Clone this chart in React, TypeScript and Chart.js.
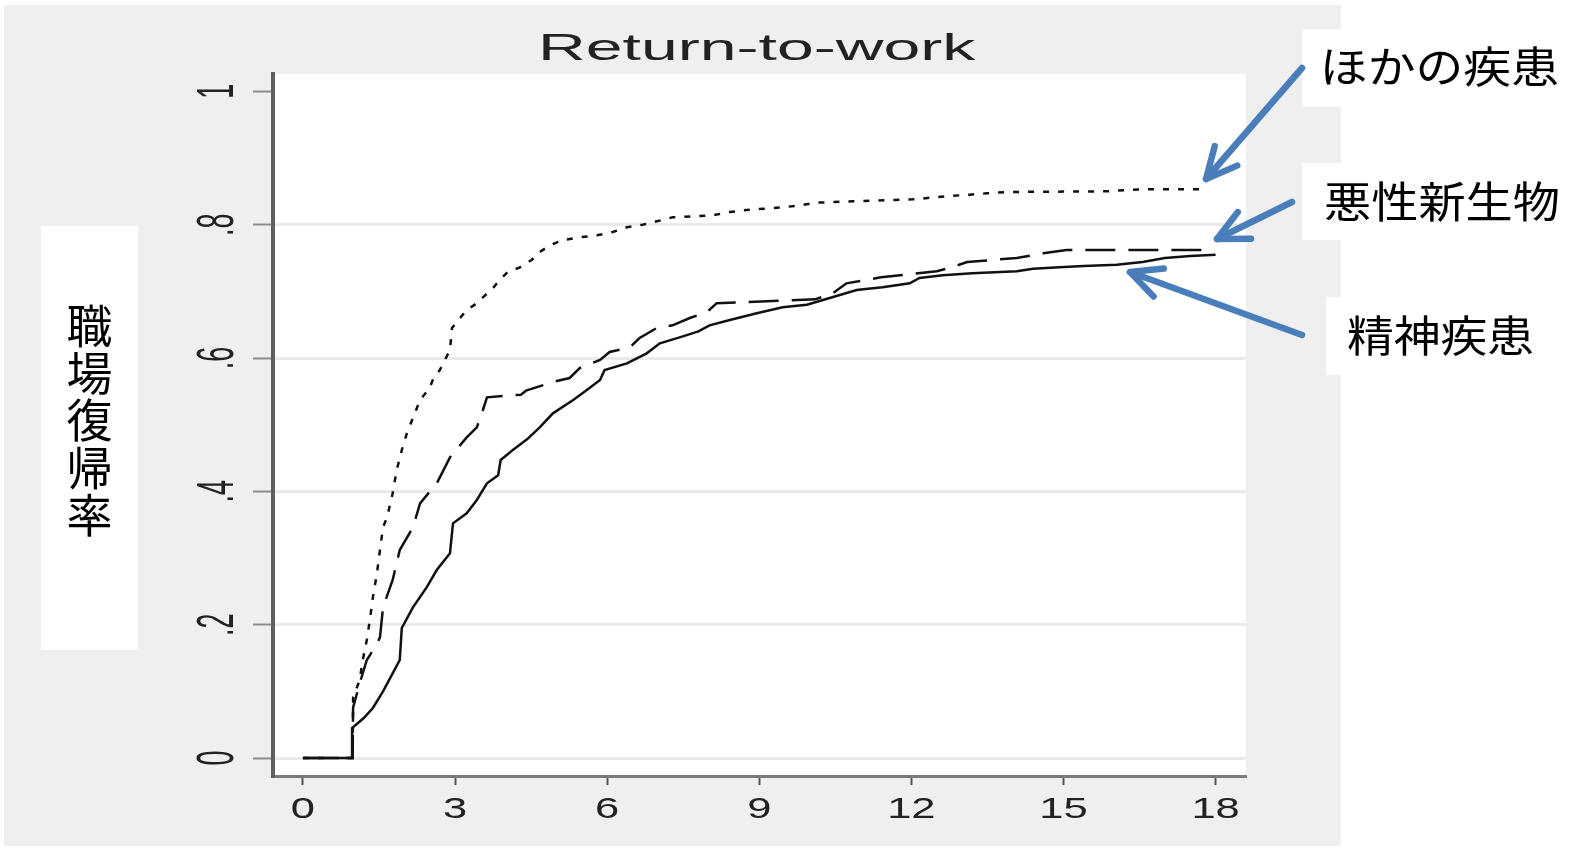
import React, { useEffect, useRef } from 'react';
import { Chart, registerables } from 'chart.js';

Chart.register(...registerables);

// ---------------- data ----------------
const titleText = 'Return-to-work';
const yAxisTitle = '職場復帰率';
const seriesNames = ['精神疾患', '悪性新生物', 'ほかの疾患'];

const xTickValues = [0, 3, 6, 9, 12, 15, 18];
const xTickLabels = ['0', '3', '6', '9', '12', '15', '18'];
const yTickValues = [0, 0.2, 0.4, 0.6, 0.8, 1];
const yTickLabels = ['0', '.2', '.4', '.6', '.8', '1'];

// 精神疾患 (solid)
const mentalT = [0, 0.97, 0.97, 1.2, 1.38, 1.58, 1.77, 1.91, 1.95, 2.17, 2.44, 2.64, 2.9, 2.96, 3.23, 3.43, 3.63, 3.85, 3.9, 4.14, 4.42, 4.67, 4.93, 5.33, 5.6, 5.86, 5.95, 6.39, 6.78, 7.04, 7.43, 7.8, 8.02, 8.42, 8.95, 9.46, 9.94, 10.39, 10.92, 11.43, 11.97, 12.16, 12.62, 13.2, 14.08, 14.4, 14.92, 15.4, 16.05, 16.56, 17.0, 17.5, 18.0];
const mentalV = [0, 0, 0.045, 0.06, 0.075, 0.1, 0.127, 0.147, 0.195, 0.226, 0.256, 0.282, 0.307, 0.352, 0.367, 0.387, 0.412, 0.424, 0.447, 0.462, 0.478, 0.496, 0.517, 0.537, 0.552, 0.567, 0.582, 0.592, 0.607, 0.622, 0.631, 0.64, 0.649, 0.657, 0.667, 0.676, 0.68, 0.69, 0.702, 0.706, 0.712, 0.72, 0.724, 0.727, 0.73, 0.734, 0.736, 0.738, 0.74, 0.744, 0.75, 0.753, 0.755];

// 悪性新生物 (dashed)
const cancerT = [0, 0.98, 0.99, 1.12, 1.26, 1.45, 1.52, 1.58, 1.77, 1.91, 2.17, 2.31, 2.64, 2.9, 3.23, 3.43, 3.55, 3.63, 4.3, 4.4, 4.93, 5.26, 5.46, 5.86, 6.05, 6.45, 6.64, 6.98, 7.29, 7.63, 7.97, 8.16, 10.1, 10.45, 10.72, 11.4, 12.5, 12.75, 13.1, 14.08, 14.6, 15.06, 17.8];
const cancerV = [0, 0, 0.076, 0.112, 0.147, 0.17, 0.181, 0.226, 0.267, 0.312, 0.346, 0.382, 0.412, 0.451, 0.481, 0.496, 0.522, 0.541, 0.545, 0.551, 0.564, 0.57, 0.585, 0.597, 0.609, 0.616, 0.63, 0.645, 0.649, 0.66, 0.669, 0.682, 0.688, 0.697, 0.712, 0.721, 0.73, 0.735, 0.744, 0.75, 0.757, 0.762, 0.762];

// ほかの疾患 (dotted)
const otherT = [0, 0.98, 0.99, 1.12, 1.18, 1.26, 1.32, 1.38, 1.46, 1.52, 1.58, 1.66, 1.77, 1.85, 1.95, 2.05, 2.17, 2.31, 2.5, 2.56, 2.7, 2.8, 2.9, 2.94, 3.1, 3.23, 3.43, 3.55, 3.75, 3.88, 4.04, 4.28, 4.51, 4.67, 4.87, 5.13, 5.46, 5.8, 6.11, 6.39, 6.7, 6.98, 7.29, 8.08, 8.42, 8.75, 9.46, 9.8, 10.13, 10.85, 12.03, 12.76, 13.15, 13.49, 13.88, 15.85, 16.25, 16.64, 17.8];
const otherV = [0, 0, 0.091, 0.117, 0.147, 0.177, 0.207, 0.241, 0.277, 0.312, 0.346, 0.361, 0.397, 0.432, 0.462, 0.487, 0.51, 0.537, 0.555, 0.567, 0.582, 0.597, 0.612, 0.645, 0.66, 0.672, 0.682, 0.691, 0.705, 0.717, 0.729, 0.736, 0.747, 0.759, 0.769, 0.777, 0.781, 0.784, 0.789, 0.796, 0.8, 0.805, 0.811, 0.814, 0.819, 0.822, 0.826, 0.829, 0.833, 0.835, 0.838, 0.843, 0.845, 0.847, 0.849, 0.85, 0.852, 0.853, 0.853];

const toPoints = (t: number[], v: number[]) => t.map((x, i) => ({ x, y: v[i] }));

// ---------------- drawing helpers ----------------
const LATIN = '"Liberation Sans", Arial, sans-serif';
const CJK = '"Noto Sans CJK JP", "Noto Sans CJK SC", sans-serif';

function fitInk(ctx: CanvasRenderingContext2D, text: string, family: string, fs: number,
  x0: number, x1: number, y0: number, y1: number, color: string) {
  ctx.save();
  ctx.font = `${fs}px ${family}`;
  ctx.textAlign = 'left';
  ctx.textBaseline = 'alphabetic';
  const m = ctx.measureText(text);
  const w = m.actualBoundingBoxLeft + m.actualBoundingBoxRight;
  const h = m.actualBoundingBoxAscent + m.actualBoundingBoxDescent;
  ctx.translate(x0, y0);
  ctx.scale((x1 - x0) / w, (y1 - y0) / h);
  ctx.fillStyle = color;
  ctx.fillText(text, m.actualBoundingBoxLeft, m.actualBoundingBoxAscent);
  ctx.restore();
}

function arrow(ctx: CanvasRenderingContext2D, x1: number, y1: number, x2: number, y2: number) {
  ctx.save();
  ctx.strokeStyle = '#4a7ebb';
  ctx.lineWidth = 6.5;
  ctx.lineCap = 'round';
  ctx.lineJoin = 'round';
  ctx.beginPath();
  ctx.moveTo(x1, y1);
  ctx.lineTo(x2, y2);
  ctx.stroke();
  const ang = Math.atan2(y1 - y2, x1 - x2);
  const L = 34;
  const a = (26 * Math.PI) / 180;
  ctx.beginPath();
  ctx.moveTo(x2 + L * Math.cos(ang + a), y2 + L * Math.sin(ang + a));
  ctx.lineTo(x2, y2);
  ctx.lineTo(x2 + L * Math.cos(ang - a), y2 + L * Math.sin(ang - a));
  ctx.stroke();
  ctx.restore();
}

const decorPlugin = {
  id: 'decor',
  beforeDraw(chart: any) {
    const ctx: CanvasRenderingContext2D = chart.ctx;
    const ca = chart.chartArea;
    ctx.save();
    ctx.fillStyle = '#ffffff';
    ctx.fillRect(0, 0, chart.width, chart.height);
    ctx.fillStyle = '#efefef';
    ctx.fillRect(4, 5, 1337, 841);
    ctx.fillStyle = '#ffffff';
    ctx.fillRect(ca.left, ca.top, ca.right - ca.left, ca.bottom - ca.top);
    ctx.restore();
  },
  afterDraw(chart: any) {
    const ctx: CanvasRenderingContext2D = chart.ctx;
    const xs = chart.scales.x;
    const ys = chart.scales.y;
    // title
    fitInk(ctx, titleText, LATIN, 40, 543, 977, 32, 60, '#222222');
    // x tick labels
    ctx.save();
    ctx.font = `30px ${LATIN}`;
    ctx.fillStyle = '#222222';
    ctx.textAlign = 'center';
    ctx.textBaseline = 'alphabetic';
    xTickValues.forEach((v, i) => {
      const px = xs.getPixelForValue(v);
      ctx.save();
      ctx.translate(px, 818);
      ctx.scale(1.45, 1);
      ctx.fillText(xTickLabels[i], 0, 0);
      ctx.restore();
    });
    ctx.restore();
    // y tick labels (rotated)
    ctx.save();
    ctx.font = `27px ${LATIN}`;
    ctx.fillStyle = '#222222';
    ctx.textAlign = 'center';
    ctx.textBaseline = 'alphabetic';
    yTickValues.forEach((v, i) => {
      const py = ys.getPixelForValue(v);
      ctx.save();
      ctx.translate(233, py);
      ctx.rotate(-Math.PI / 2);
      ctx.scale(1, 1.9);
      ctx.fillText(yTickLabels[i], 0, 0);
      ctx.restore();
    });
    ctx.restore();
    // y axis title box
    ctx.save();
    ctx.fillStyle = '#ffffff';
    ctx.fillRect(41, 226, 97, 424);
    ctx.font = `46px ${CJK}`;
    ctx.fillStyle = '#000000';
    ctx.textAlign = 'center';
    ctx.textBaseline = 'alphabetic';
    const chars = Array.from(yAxisTitle);
    chars.forEach((c, i) => {
      const m = ctx.measureText(c);
      const yc = 326 + i * 47.2;
      ctx.fillText(c, 89.5, yc + (m.actualBoundingBoxAscent - m.actualBoundingBoxDescent) / 2);
    });
    ctx.restore();
    // annotation boxes
    ctx.save();
    ctx.fillStyle = '#ffffff';
    ctx.fillRect(1302, 29, 275, 78);
    ctx.fillRect(1302, 163, 275, 77);
    ctx.fillRect(1326, 297, 251, 78);
    ctx.restore();
    fitInk(ctx, seriesNames[2], CJK, 46, 1325, 1558, 47, 88, '#000000');
    fitInk(ctx, seriesNames[1], CJK, 46, 1325, 1558, 182, 223, '#000000');
    fitInk(ctx, seriesNames[0], CJK, 46, 1348, 1533, 316, 357, '#000000');
    // arrows
    arrow(ctx, 1302, 68, 1206, 179);
    arrow(ctx, 1292, 202, 1217, 239);
    arrow(ctx, 1302, 335, 1130, 272);
  },
};

export default function App() {
  const canvasRef = useRef<HTMLCanvasElement | null>(null);

  useEffect(() => {
    const canvas = canvasRef.current;
    if (!canvas) return;
    const chart = new Chart(canvas, {
      type: 'line',
      data: {
        datasets: [
          {
            label: seriesNames[0],
            data: toPoints(mentalT, mentalV),
            borderColor: '#111111',
            borderWidth: 2.5,
            tension: 0,
            pointRadius: 0,
            fill: false,
          },
          {
            label: seriesNames[1],
            data: toPoints(cancerT, cancerV),
            borderColor: '#111111',
            borderWidth: 2.5,
            borderDash: [30, 13],
            tension: 0,
            pointRadius: 0,
            fill: false,
          },
          {
            label: seriesNames[2],
            data: toPoints(otherT, otherV),
            borderColor: '#111111',
            borderWidth: 2.5,
            borderDash: [6, 9],
            tension: 0,
            pointRadius: 0,
            fill: false,
          },
        ],
      },
      options: {
        animation: false,
        responsive: false,
        devicePixelRatio: 1,
        layout: { padding: { left: 213, right: 331, top: 74, bottom: 33 } },
        plugins: {
          legend: { display: false },
          tooltip: { enabled: false },
          title: { display: false },
        },
        scales: {
          x: {
            type: 'linear',
            min: -0.59,
            max: 18.6,
            afterBuildTicks: (scale: any) => {
              scale.ticks = xTickValues.map((v) => ({ value: v }));
            },
            afterFit: (scale: any) => {
              scale.height = 40;
            },
            ticks: { display: false },
            grid: {
              drawOnChartArea: false,
              drawTicks: true,
              tickLength: 9,
              tickColor: '#555555',
              tickWidth: 2,
              color: 'rgba(0,0,0,0)',
            },
            border: { display: true, color: '#7a7a7a', width: 3 },
          },
          y: {
            type: 'linear',
            min: -0.027,
            max: 1.026,
            afterBuildTicks: (scale: any) => {
              scale.ticks = yTickValues.map((v) => ({ value: v }));
            },
            afterFit: (scale: any) => {
              scale.width = 60;
            },
            ticks: { display: false },
            grid: {
              drawOnChartArea: true,
              drawTicks: true,
              tickLength: 20,
              tickColor: '#8c8c8c',
              tickWidth: 2,
              lineWidth: 3,
              color: (c: any) => (c.tick && c.tick.value === 1 ? 'rgba(0,0,0,0)' : '#eaeaea'),
            },
            border: { display: true, color: '#5f5f5f', width: 4 },
          },
        },
      },
      plugins: [decorPlugin],
    });
    return () => chart.destroy();
  }, []);

  return (
    <div style={{ position: 'fixed', left: 0, top: 0, width: 1577, height: 849 }}>
      <canvas ref={canvasRef} width={1577} height={849} style={{ width: 1577, height: 849, display: 'block' }} />
    </div>
  );
}
